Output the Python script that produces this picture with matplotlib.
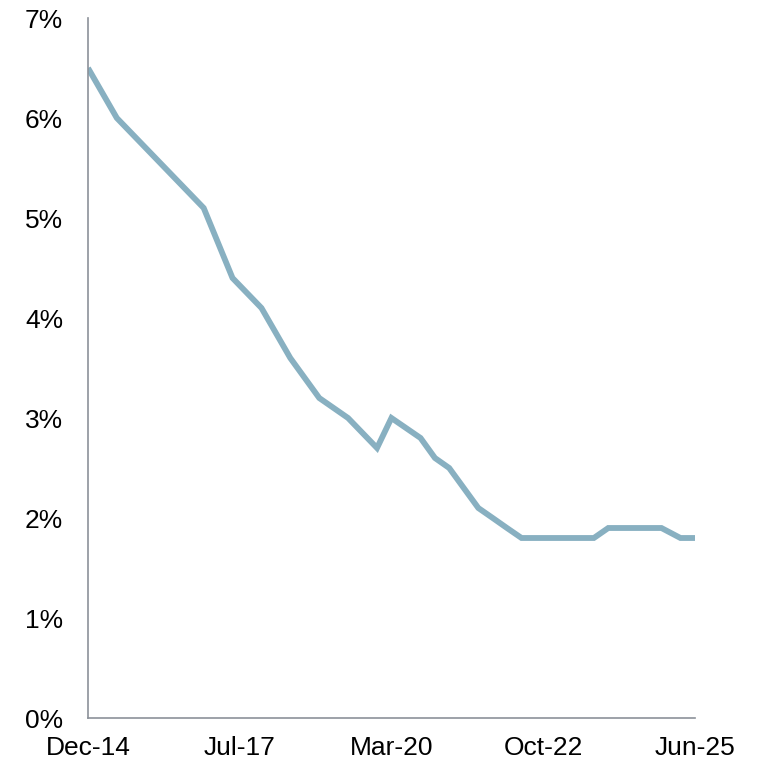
import numpy as np
import pandas as pd
import matplotlib
matplotlib.use("Agg")
import matplotlib.pyplot as plt
import matplotlib.dates as mdates

plt.rcParams["font.family"] = ["Liberation Sans", "DejaVu Sans"]

dates = [
    "2014-12", "2015-06", "2015-12", "2016-06", "2016-12", "2017-06",
    "2017-12", "2018-06", "2018-12", "2019-06", "2019-12", "2020-03",
    "2020-09", "2020-12", "2021-03", "2021-09", "2021-12", "2022-03",
    "2022-06", "2022-12", "2023-06", "2023-09", "2023-12", "2024-06",
    "2024-11", "2025-03", "2025-06",
]
rate = [
    6.5, 6.0, 5.7, 5.4, 5.1, 4.4,
    4.1, 3.6, 3.2, 3.0, 2.7, 3.0,
    2.8, 2.6, 2.5, 2.1, 2.0, 1.9,
    1.8, 1.8, 1.8, 1.8, 1.9, 1.9,
    1.9, 1.8, 1.8,
]
tick_labels = ["Dec-14", "Jul-17", "Mar-20", "Oct-22", "Jun-25"]

x = mdates.date2num(pd.to_datetime(dates))

fig = plt.figure(figsize=(7.59, 7.65), dpi=100, facecolor="white")
ax = fig.add_axes([88 / 759, 47 / 765, (695 - 88) / 759, 700 / 765])

ax.plot(x, rate, color="#88b0c1", linewidth=4.2, solid_joinstyle="miter",
        solid_capstyle="butt")

ax.set_xlim(x[0], x[-1])
ax.set_ylim(0, 7)
ax.set_yticks(range(0, 8))
ax.set_yticklabels([f"{v}%" for v in range(0, 8)])
ax.set_xticks(np.linspace(x[0], x[-1], len(tick_labels)))
ax.set_xticklabels(tick_labels)

for side in ["top", "right"]:
    ax.spines[side].set_visible(False)
for side in ["left", "bottom"]:
    ax.spines[side].set_color("#8c9199")
    ax.spines[side].set_linewidth(1.2)

ax.tick_params(axis="both", length=0, labelsize=19, colors="black")
ax.tick_params(axis="y", pad=18)
ax.tick_params(axis="x", pad=13)

fig.savefig("out.png", dpi=100, facecolor="white")
